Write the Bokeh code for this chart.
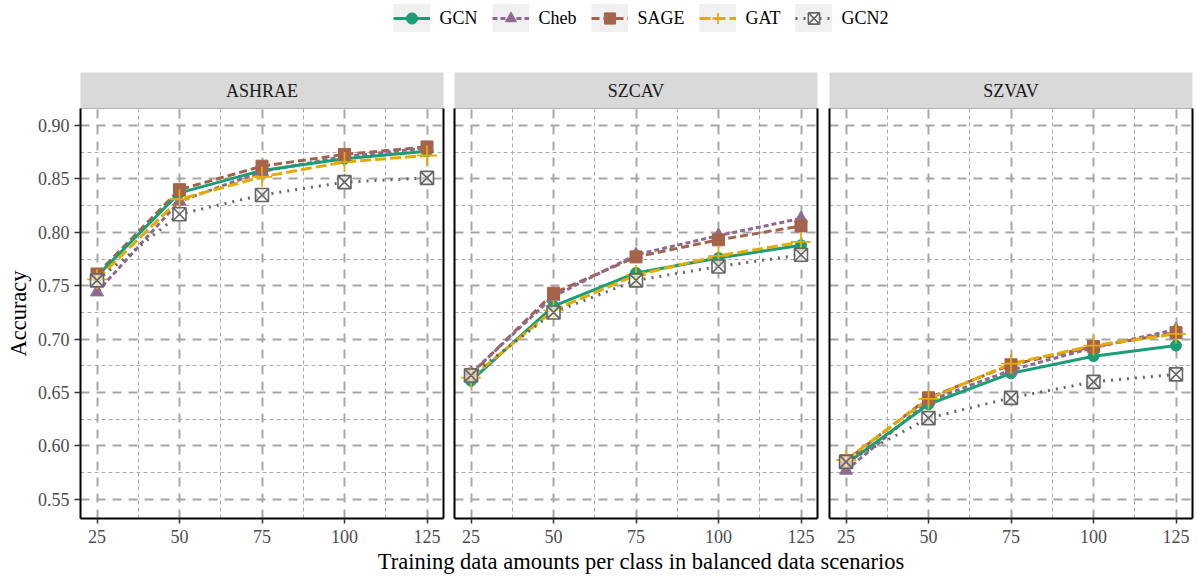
from bokeh.plotting import figure
from bokeh.layouts import row, column
from bokeh.models import (Range1d, FixedTicker, LinearAxis, Legend, LegendItem, Label)
from bokeh.embed import file_html
from bokeh.resources import INLINE

# Training samples per class
train_sizes = [25, 50, 75, 100, 125]

datasets = ["ASHRAE", "SZCAV", "SZVAV"]
models = ["GCN", "Cheb", "SAGE", "GAT", "GCN2"]

# Accuracy per model, ASHRAE
ASHRAE_GCN = [0.759, 0.837, 0.858, 0.869, 0.876]
ASHRAE_Cheb = [0.744, 0.829, 0.857, 0.871, 0.879]
ASHRAE_SAGE = [0.761, 0.840, 0.862, 0.873, 0.880]
ASHRAE_GAT = [0.756, 0.831, 0.852, 0.866, 0.872]
ASHRAE_GCN2 = [0.755, 0.817, 0.835, 0.847, 0.851]

# Accuracy per model, SZCAV
SZCAV_GCN = [0.661, 0.731, 0.762, 0.776, 0.788]
SZCAV_Cheb = [0.668, 0.740, 0.779, 0.797, 0.813]
SZCAV_SAGE = [0.667, 0.743, 0.777, 0.793, 0.806]
SZCAV_GAT = [0.664, 0.727, 0.760, 0.778, 0.791]
SZCAV_GCN2 = [0.666, 0.725, 0.755, 0.768, 0.779]

# Accuracy per model, SZVAV
SZVAV_GCN = [0.583, 0.639, 0.668, 0.684, 0.694]
SZVAV_Cheb = [0.577, 0.642, 0.671, 0.692, 0.709]
SZVAV_SAGE = [0.586, 0.645, 0.676, 0.693, 0.706]
SZVAV_GAT = [0.587, 0.644, 0.677, 0.694, 0.705]
SZVAV_GCN2 = [0.585, 0.626, 0.645, 0.660, 0.667]

results = {
    "ASHRAE": [ASHRAE_GCN, ASHRAE_Cheb, ASHRAE_SAGE, ASHRAE_GAT, ASHRAE_GCN2],
    "SZCAV": [SZCAV_GCN, SZCAV_Cheb, SZCAV_SAGE, SZCAV_GAT, SZCAV_GCN2],
    "SZVAV": [SZVAV_GCN, SZVAV_Cheb, SZVAV_SAGE, SZVAV_GAT, SZVAV_GCN2],
}

y_ticks = [0.55, 0.60, 0.65, 0.70, 0.75, 0.80, 0.85, 0.90]
y_minor = [0.575, 0.625, 0.675, 0.725, 0.775, 0.825, 0.875]
x_minor = [37.5, 62.5, 87.5, 112.5]

x_title = "Training data amounts per class in balanced data scenarios"
y_title = "Accuracy"

FONT = "Liberation Serif"

style = {
    "GCN":  dict(color="#1B9E77", dash="solid", marker="circle", size=11, fill="#1B9E77", lw=1),
    "Cheb": dict(color="#8E6B8E", dash="5 3", marker="triangle", size=13, fill="#8E6B8E", lw=1),
    "SAGE": dict(color="#A6634B", dash="8 4", marker="square", size=12, fill="#A6634B", lw=1),
    "GAT":  dict(color="#E6AB02", dash="11 4", marker="cross", size=20, fill=None, lw=1.8),
    "GCN2": dict(color="#666666", dash="2 6", marker="square_x", size=13, fill="#FFFFFF", lw=1.6),
}
line_order = ["SAGE", "Cheb", "GCN", "GAT", "GCN2"]
point_order = ["GCN", "Cheb", "SAGE", "GAT", "GCN2"]

PANEL_H = 440   # frame 410 px + room for the tick labels


def blank_axis(color="black", width=2):
    return LinearAxis(ticker=FixedTicker(ticks=[]), major_tick_out=0, minor_tick_out=0,
                      major_tick_in=0, minor_tick_in=0,
                      major_label_text_font_size="0px",
                      axis_line_color=color, axis_line_width=width)


def add_markers(p, m, xs, ys):
    s = style[m]
    kw = dict(marker=s["marker"], line_color=s["color"], line_width=s["lw"])
    if xs is not None:
        kw["size"] = s["size"]
    if s["fill"] is None:
        kw["fill_color"] = None
    else:
        kw["fill_color"] = s["fill"]
        if m == "GCN2":
            kw["fill_alpha"] = 0.6
    return p.scatter(xs if xs is not None else [float("nan")],
                     ys if ys is not None else [float("nan")], **kw)


def panel(name, width, border_left, border_right, first):
    p = figure(width=width, height=PANEL_H, x_range=Range1d(20, 130), y_range=Range1d(0.532, 0.916),
               output_backend="svg", toolbar_location=None,
               min_border_left=border_left, min_border_right=border_right,
               min_border_top=0, min_border_bottom=PANEL_H - 410,
               x_axis_location="below", y_axis_location="left" if first else None)
    p.outline_line_color = None
    p.background_fill_color = "white"

    p.xaxis.ticker = FixedTicker(ticks=train_sizes, minor_ticks=x_minor)
    p.xaxis.major_label_overrides = {t: str(t) for t in train_sizes}
    p.xaxis.major_tick_out = 5
    p.xaxis.major_tick_in = 0
    p.xaxis.minor_tick_out = 0
    p.xaxis.minor_tick_in = 0
    p.xaxis.major_label_standoff = 6
    p.xaxis.axis_line_color = "black"
    p.xaxis.axis_line_width = 2
    p.xaxis.major_tick_line_color = "#333333"
    p.xaxis.major_tick_line_width = 1.5
    p.xaxis.major_label_text_font = FONT
    p.xaxis.major_label_text_font_size = "18px"
    p.xaxis.major_label_text_color = "#4D4D4D"

    if first:
        p.yaxis.ticker = FixedTicker(ticks=y_ticks, minor_ticks=y_minor)
        p.yaxis.major_label_overrides = {t: f"{t:.2f}" for t in y_ticks}
        p.yaxis.major_tick_out = 6
        p.yaxis.major_tick_in = 0
        p.yaxis.minor_tick_out = 0
        p.yaxis.minor_tick_in = 0
        p.yaxis.major_label_standoff = 5
        p.yaxis.axis_line_color = "black"
        p.yaxis.axis_line_width = 2
        p.yaxis.major_tick_line_color = "#333333"
        p.yaxis.major_tick_line_width = 1.5
        p.yaxis.major_label_text_font = FONT
        p.yaxis.major_label_text_font_size = "18px"
        p.yaxis.major_label_text_color = "#4D4D4D"
        p.yaxis.axis_label = y_title
        p.yaxis.axis_label_text_font = FONT
        p.yaxis.axis_label_text_font_size = "22.5px"
        p.yaxis.axis_label_text_font_style = "normal"
        p.yaxis.axis_label_text_color = "black"
        p.yaxis.axis_label_standoff = 4
    else:
        p.add_layout(blank_axis(), "left")
    p.add_layout(blank_axis(), "right")
    p.add_layout(blank_axis("#B3B3B3", 1.2), "above")

    # grid: long dashes on the major breaks, short dashes on the minor ones
    p.xgrid.ticker = FixedTicker(ticks=train_sizes, minor_ticks=x_minor)
    p.ygrid.ticker = FixedTicker(ticks=y_ticks, minor_ticks=y_minor)
    for g in (p.xgrid, p.ygrid):
        g.grid_line_color = "#A6A6A6"
        g.grid_line_width = 2
        g.grid_line_dash = "9 7"
        g.minor_grid_line_color = "#ABABAB"
        g.minor_grid_line_width = 1
        g.minor_grid_line_dash = "4 3"

    series = dict(zip(models, results[name]))
    for m in line_order:
        s = style[m]
        p.line(train_sizes, series[m], line_color=s["color"], line_width=3, line_dash=s["dash"])
    for m in point_order:
        add_markers(p, m, train_sizes, series[m])
    return p


def strip(name, width, border_left, border_right):
    s = figure(width=width, height=36, x_range=Range1d(0, 1), y_range=Range1d(0, 1),
               output_backend="svg", toolbar_location=None,
               min_border_left=border_left, min_border_right=border_right,
               min_border_top=0, min_border_bottom=0,
               x_axis_location=None, y_axis_location=None)
    s.outline_line_color = None
    s.grid.visible = False
    s.background_fill_color = "#D9D9D9"
    s.add_layout(Label(x=0.5, y=0.5, text=name, text_align="center", text_baseline="middle",
                       text_font=FONT, text_font_size="18px", text_color="#1A1A1A"))
    return s


geom = [(449, 80, 6), (374, 5, 6), (374, 6, 5)]
cols = []
for i, (name, (w, bl, br)) in enumerate(zip(datasets, geom)):
    cols.append(column(strip(name, w, bl, br), panel(name, w, bl, br, i == 0), spacing=0))

# legend strip across the top
lp = figure(width=1197, height=72, x_range=Range1d(0, 1), y_range=Range1d(0, 1),
            output_backend="svg", toolbar_location=None,
            min_border_left=88, min_border_right=4, min_border_top=0, min_border_bottom=0,
            x_axis_location=None, y_axis_location=None)
lp.outline_line_color = None
lp.grid.visible = False
nan = [float("nan")]
items = []
for m in models:
    s = style[m]
    bg = lp.line(x=nan, y=nan, line_color="#F0F0F0", line_width=37)
    ln = lp.line(x=nan, y=nan, line_color=s["color"], line_width=3, line_dash=s["dash"])
    mk = add_markers(lp, m, None, None)
    items.append(LegendItem(label=m, renderers=[bg, ln, mk]))
legend = Legend(items=items, orientation="horizontal", location="top_center",
                glyph_width=37, glyph_height=28, label_standoff=10, spacing=14,
                margin=4, padding=5, border_line_color=None, background_fill_alpha=0,
                label_text_font=FONT, label_text_font_size="18px", label_text_color="black")
lp.add_layout(legend, "center")

# shared x-axis title under the three panels
bp = figure(width=1197, height=578 - 72 - 36 - PANEL_H, x_range=Range1d(0, 1), y_range=Range1d(0, 1),
            output_backend="svg", toolbar_location=None,
            min_border_left=80, min_border_right=4, min_border_top=0, min_border_bottom=0,
            x_axis_location=None, y_axis_location=None)
bp.outline_line_color = None
bp.grid.visible = False
bp.add_layout(Label(x=0.5, y=0.57, text=x_title, text_align="center", text_baseline="middle",
                    text_font=FONT, text_font_size="22.5px", text_color="black"))

layout = column(lp, row(*cols, spacing=0), bp, spacing=0)
open("out.html", "w").write(file_html(layout, INLINE))
